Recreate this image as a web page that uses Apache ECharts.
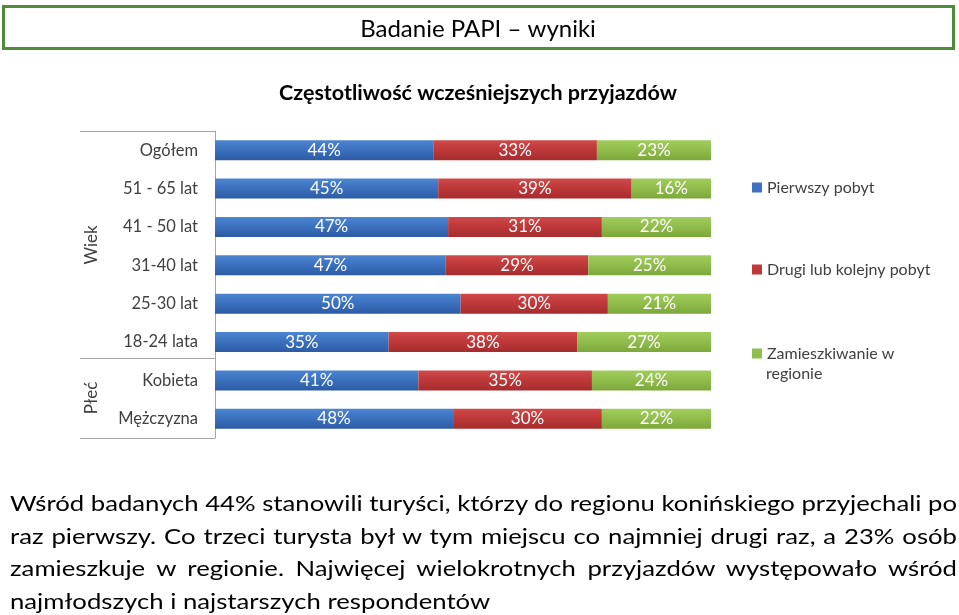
<!DOCTYPE html>
<html>
<head>
<meta charset="utf-8">
<script src="https://cdn.jsdelivr.net/npm/echarts@6/dist/echarts.min.js"></script>
<style>
  html, body { margin: 0; padding: 0; background: #fff; }
  #chart { position: absolute; left: 0; top: 0; width: 959px; height: 615px; }
  #para { position: absolute; left: 10px; top: 487px; width: 947px;
          transform-origin: 0 0;
          font-family: Lato, 'Open Sans', sans-serif;
          font-size: 22px; line-height: 32.7px; color: #000; }
  #para .j { text-align: justify; text-align-last: justify; white-space: nowrap; }
  #para .l { text-align: left; white-space: nowrap; }
  #para span { white-space: nowrap; }
</style>
</head>
<body>
<div id="chart"></div>
<div id="para"></div>
<script>
const categories = ['Ogółem', '51 - 65 lat', '41 - 50 lat', '31-40 lat', '25-30 lat', '18-24 lata', 'Kobieta', 'Mężczyzna'];
const seriesNames = ['Pierwszy pobyt', 'Drugi lub kolejny pobyt', 'Zamieszkiwanie w regionie'];
const pierwszy = [44, 45, 47, 47, 50, 35, 41, 48];
const drugi = [33, 39, 31, 29, 30, 38, 35, 30];
const zamieszkiwanie = [23, 16, 22, 25, 21, 27, 24, 22];
const groupLabels = ['Wiek', 'Płeć'];
const titleText = 'Badanie PAPI – wyniki';
const chartTitle = 'Częstotliwość wcześniejszych przyjazdów';
const paragraphLines = [
  'Wśród badanych 44% stanowili turyści, którzy do regionu konińskiego przyjechali po',
  'raz pierwszy. Co trzeci turysta był w tym miejscu co najmniej drugi raz, a 23% osób',
  'zamieszkuje w regionie. Najwięcej wielokrotnych przyjazdów występowało wśród',
  'najmłodszych i najstarszych respondentów'
];

// paragraph: justified lines, horizontally fitted to 947px
(function () {
  const para = document.getElementById('para');
  const widths = paragraphLines.map(t => {
    const s = document.createElement('span'); s.textContent = t;
    para.appendChild(s); const w = s.getBoundingClientRect().width; para.removeChild(s); return w;
  });
  const maxW = Math.max(...widths.slice(0, 3));
  const sx = 947 / maxW;
  para.style.width = maxW + 'px';
  para.style.transform = 'scaleX(' + sx + ')';
  paragraphLines.forEach((t, i) => {
    const d = document.createElement('div');
    d.className = i < 3 ? 'j' : 'l';
    d.textContent = t;
    para.appendChild(d);
  });
})();

const raw = [pierwszy, drugi, zamieszkiwanie];
// 100% stacked: each row normalised to its total
const totals = categories.map((c, i) => raw.reduce((s, arr) => s + arr[i], 0));

const FONT = "Lato, 'Open Sans', sans-serif";
function grad(top, mid, bot) {
  return new echarts.graphic.LinearGradient(0, 0, 0, 1, [
    { offset: 0, color: top }, { offset: 0.45, color: mid }, { offset: 1, color: bot }
  ]);
}
const colors = [
  grad('#4d85d1', '#3c72c0', '#2d5ba4'),
  grad('#d04a4a', '#c0393a', '#a52c2e'),
  grad('#a0cc5c', '#91be4c', '#7ca83b')
];
const legendColors = ['#3c72c0', '#c0393a', '#91be4c'];

const chart = echarts.init(document.getElementById('chart'), null, { renderer: 'canvas' });

const series = raw.map((arr, k) => ({
  name: seriesNames[k],
  type: 'bar',
  stack: 'total',
  barWidth: 20,
  data: arr.map((v, i) => ({ value: v / totals[i] * 100, raw: v })),
  itemStyle: { color: colors[k] },
  label: {
    show: true, position: 'inside', color: '#fff',
    fontFamily: FONT, fontSize: 17,
    formatter: p => p.data.raw + '%'
  },
  emphasis: { disabled: true }
}));

const legendTops = [172, 254, 338];
const legends = seriesNames.map((n, k) => ({
  orient: 'vertical', left: 747, top: legendTops[k],
  data: [{ name: n, itemStyle: { color: legendColors[k] } }],
  icon: 'rect', itemWidth: 10, itemHeight: 10, itemGap: 6,
  selectedMode: false,
  formatter: name => name === 'Zamieszkiwanie w regionie' ? 'Zamieszkiwanie w' : name,
  textStyle: { fontFamily: FONT, fontSize: 16, color: '#404040', lineHeight: 21 }
}));

chart.setOption({
  animation: false,
  grid: { left: 215, top: 131, width: 496, height: 307, containLabel: false },
  xAxis: { type: 'value', min: 0, max: 100, show: false },
  yAxis: {
    type: 'category', data: categories, inverse: true,
    axisLine: { show: true, lineStyle: { color: '#a6a6a6' } },
    axisTick: { show: false },
    axisLabel: { fontFamily: FONT, fontSize: 16.5, color: '#404040', margin: 17 }
  },
  legend: legends,
  series: series,
  graphic: [
    { type: 'rect', shape: { x: 3.5, y: 6.5, width: 950, height: 42 },
      style: { fill: '#fff', stroke: '#4f8b3b', lineWidth: 3 }, z: 0 },
    { type: 'text', x: 478, y: 29.5, style: { text: titleText, fontFamily: FONT, fontSize: 24,
      fill: '#000', align: 'center', verticalAlign: 'middle' } },
    { type: 'text', x: 478, y: 93.5, style: { text: chartTitle, fontFamily: FONT,
      fontSize: 21.5, fontWeight: 'bold', fill: '#000', align: 'center', verticalAlign: 'middle' } },
    { type: 'text', left: 766, top: 366, style: { text: 'regionie', fontFamily: FONT, fontSize: 16,
      fill: '#404040' } },
    { type: 'line', shape: { x1: 80, y1: 131.5, x2: 215, y2: 131.5 }, style: { stroke: '#a6a6a6', lineWidth: 1 } },
    { type: 'line', shape: { x1: 80, y1: 358.5, x2: 215, y2: 358.5 }, style: { stroke: '#a6a6a6', lineWidth: 1 } },
    { type: 'line', shape: { x1: 80, y1: 438.5, x2: 215, y2: 438.5 }, style: { stroke: '#a6a6a6', lineWidth: 1 } },
    { type: 'text', x: 92, y: 245, rotation: Math.PI / 2, style: { text: groupLabels[0], fontFamily: FONT, fontSize: 17,
      fill: '#404040', align: 'center', verticalAlign: 'middle' } },
    { type: 'text', x: 92, y: 398, rotation: Math.PI / 2, style: { text: groupLabels[1], fontFamily: FONT, fontSize: 17,
      fill: '#404040', align: 'center', verticalAlign: 'middle' } }
  ]
});
</script>
</body>
</html>
